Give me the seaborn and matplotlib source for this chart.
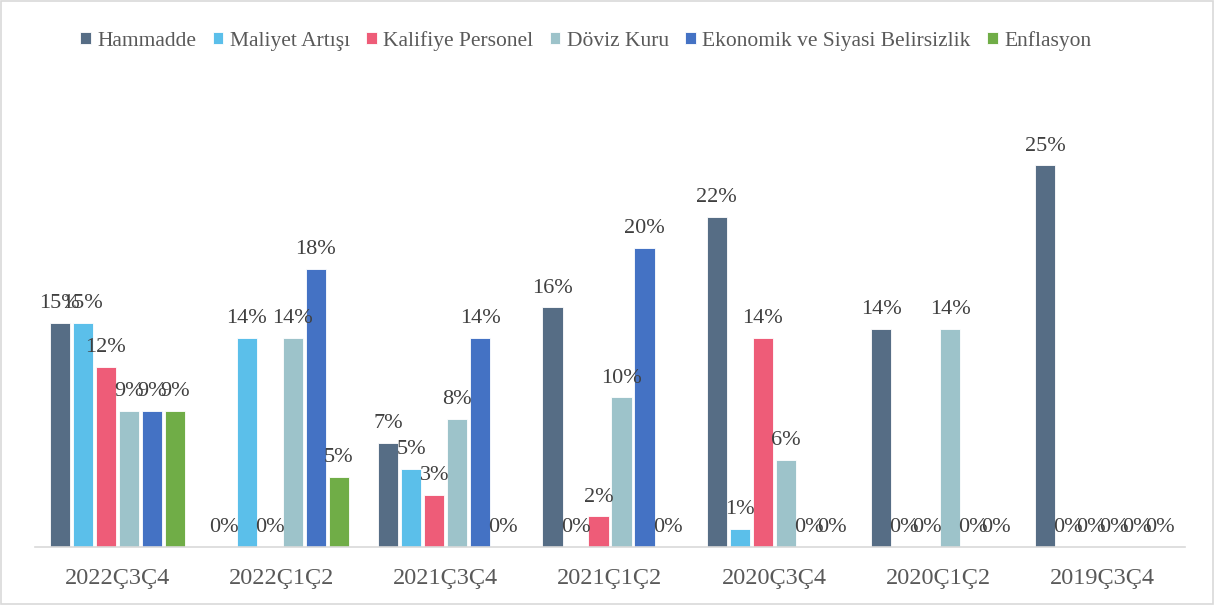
import matplotlib
matplotlib.use("Agg")
import matplotlib.pyplot as plt
import pandas as pd
import seaborn as sns
from matplotlib.patches import Rectangle

# dönemler ve seriler (yüzde)
donemler = ["2022Ç3Ç4", "2022Ç1Ç2", "2021Ç3Ç4", "2021Ç1Ç2", "2020Ç3Ç4", "2020Ç1Ç2", "2019Ç3Ç4"]
hammadde = [14.7, 0, 6.8, 15.7, 21.6, 14.3, 25.0]
maliyet = [14.7, 13.7, 5.1, 0, 1.2, 0, 0]
kalifiye = [11.8, 0, 3.4, 2.0, 13.7, 0, 0]
doviz = [8.9, 13.7, 8.4, 9.8, 5.7, 14.3, 0]
ekonomik = [8.9, 18.2, 13.7, 19.6, 0, 0, 0]
enflasyon = [8.9, 4.6, 0, 0, 0, 0, 0]

seriler = {
    "Hammadde": hammadde,
    "Maliyet Artışı": maliyet,
    "Kalifiye Personel": kalifiye,
    "Döviz Kuru": doviz,
    "Ekonomik ve Siyasi Belirsizlik": ekonomik,
    "Enflasyon": enflasyon,
}
renkler = ["#566D85", "#5BBFEA", "#EE5C78", "#9DC3CA", "#4472C4", "#70AD47"]

rows = []
for ad, degerler in seriler.items():
    for d, v in zip(donemler, degerler):
        rows.append({"Dönem": d, "Seri": ad, "Oran": v})
df = pd.DataFrame(rows)

sns.set_style("white")
plt.rcParams["font.family"] = ["Liberation Serif", "DejaVu Serif"]

fig = plt.figure(figsize=(12.15, 6.05), dpi=100)
ax = fig.add_axes([35 / 1215, 58 / 605, 1150 / 1215, 452 / 605])

sns.barplot(data=df, x="Dönem", y="Oran", hue="Seri", palette=renkler, saturation=1,
            width=0.84, gap=0.12, edgecolor="white", linewidth=0.6,
            errorbar=None, ax=ax)

for cont in ax.containers:
    ax.bar_label(cont, labels=[f"{b.get_height():.0f}%" for b in cont],
                 padding=7, fontsize=16, color="#404040")

ax.set_ylim(0, 29.6)
ax.set_xlim(-0.5, 6.5)
ax.set_xlabel("")
ax.set_ylabel("")
ax.set_yticks([])
for s in ["top", "left", "right"]:
    ax.spines[s].set_visible(False)
ax.spines["bottom"].set_color("#D9D9D9")
ax.spines["bottom"].set_linewidth(1.2)
ax.tick_params(axis="x", length=0, labelsize=17.5, labelcolor="#595959", pad=15)

ax.legend(loc="upper center", bbox_to_anchor=(0.482, 0.995), bbox_transform=fig.transFigure,
          ncol=6, frameon=False, fontsize=15.5, labelcolor="#595959",
          handlelength=0.5, handleheight=0.5, handletextpad=0.3, columnspacing=0.75,
          borderaxespad=0.9)

fig.patches.append(Rectangle((0.001, 0.002), 0.997, 0.996, transform=fig.transFigure,
                             fill=False, edgecolor="#D9D9D9", linewidth=1.2))

fig.savefig("out.png", dpi=100)
